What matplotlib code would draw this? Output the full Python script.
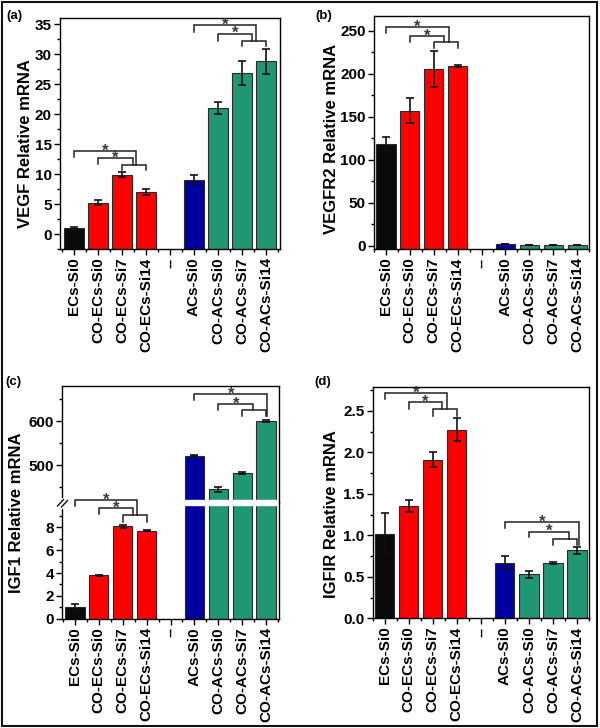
import matplotlib
matplotlib.use('Agg')
import matplotlib.pyplot as plt
import numpy as np
from matplotlib.ticker import MultipleLocator, FixedLocator
from matplotlib.patches import Rectangle
from matplotlib.lines import Line2D

plt.rcParams['font.family'] = ['Liberation Sans', 'DejaVu Sans']
plt.rcParams['font.weight'] = 'bold'

groups = ['ECs-Si0', 'CO-ECs-Si0', 'CO-ECs-Si7', 'CO-ECs-Si14', '--',
          'ACs-Si0', 'CO-ACs-Si0', 'CO-ACs-Si7', 'CO-ACs-Si14']
bar_colors = ['#0a0a0a', '#ff0000', '#ff0000', '#ff0000', 'none',
              '#0000a0', '#219672', '#219672', '#219672']

vegf = [1.0, 5.2, 9.9, 7.0, None, 9.0, 21.0, 26.9, 28.8]
vegf_err = [0.1, 0.4, 0.4, 0.5, None, 0.8, 1.0, 2.0, 2.1]
vegfr2 = [118, 157, 205, 209, None, 2.0, 1.0, 1.0, 1.0]
vegfr2_err = [8, 15, 21, 1, None, 0.3, 0.2, 0.2, 0.2]
igf1 = [1.05, 3.82, 8.1, 7.7, None, 522, 445, 482, 600]
igf1_err = [0.25, 0.05, 0.15, 0.05, None, 2, 5, 2, 2]
igf1r = [1.02, 1.35, 1.91, 2.27, None, 0.67, 0.53, 0.67, 0.82]
igf1r_err = [0.25, 0.07, 0.09, 0.14, None, 0.08, 0.04, 0.01, 0.04]

# significance brackets: (x1, x2, y, left leg end, right leg end, star)
sig_a = [(2, 3, 11.5, 10.7, 10.7, False), (1, 2.45, 12.7, 11.7, 11.5, True),
         (0, 2.6, 13.8, 12.9, 11.5, True),
         (7, 8, 32.2, 31.3, 31.3, False), (6, 7.4, 33.4, 32.2, 32.2, True),
         (5, 7.6, 34.8, 33.6, 32.2, True)]
sig_b = [(2, 3, 236.5, 229.5, 229.5, False), (1, 2.42, 243.8, 236.5, 236.5, True),
         (0, 2.62, 254, 247, 236.5, True)]
sig_c_low = [(2, 3, 9.08, 8.5, 8.5, False), (1, 2.42, 9.66, 9.14, 9.08, True),
             (0, 2.6, 10.39, 9.9, 9.08, True)]
sig_c_high = [(7, 8, 625.8, 612, 612, False), (6, 7.46, 639.4, 625.8, 625.8, True),
              (5, 8.05, 661, 648.5, 612, True)]
sig_d = [(2, 3, 2.52, 2.44, 2.44, False), (1, 2.4, 2.61, 2.52, 2.52, True),
         (0, 2.6, 2.71, 2.64, 2.52, True),
         (7, 8, 0.96, 0.88, 0.88, False), (6, 7.65, 1.045, 0.98, 0.96, True),
         (5, 8.1, 1.16, 1.09, 0.88, True)]

W, H = 600, 728
fig = plt.figure(figsize=(6, 7.28), dpi=100)


def box(l, t, r, b):
    return [l / W, 1 - b / H, (r - l) / W, (b - t) / H]


def fpt(px, py):
    return px / W, 1 - py / H


def arr(v):
    return np.array([np.nan if a is None else a for a in v], float)


def draw_bars(ax, vals, errs, base):
    x = np.arange(len(groups))
    v = arr(vals)
    ax.bar(x, v - base, bottom=base, width=0.8, color=bar_colors,
           edgecolor='#2a2a2a', linewidth=0.8, zorder=1)
    ax.errorbar(x, v, yerr=arr(errs), fmt='none', ecolor='#111111',
                elinewidth=1.2, capsize=3, capthick=1.2, zorder=2)


def style(ax, xlabels=True):
    ax.set_xticks(np.arange(len(groups)))
    if xlabels:
        ax.set_xticklabels(groups, rotation=90, fontsize=11, fontweight='bold')
    else:
        ax.set_xticklabels([])
    ax.xaxis.set_minor_locator(FixedLocator(np.arange(-0.5, 9, 1)))
    ax.tick_params(which='both', direction='out', top=False, right=False,
                   width=1, labelsize=11, pad=2)
    ax.tick_params(which='major', length=4)
    ax.tick_params(which='minor', length=2.5)
    for s in ax.spines.values():
        s.set_linewidth(1.0)
    for lab in ax.get_yticklabels():
        lab.set_fontweight('bold')


def brackets(ax, sig):
    for x1, x2, y, yl, yr, star in sig:
        ax.plot([x1, x1, x2, x2], [yl, y, y, yr], color='#222222', lw=1.1,
                zorder=4, clip_on=False, solid_joinstyle='miter')
        if star:
            ax.annotate('*', ((x1 + x2) / 2, y), xytext=(0, -5.5),
                        textcoords='offset points', ha='center', va='bottom',
                        fontsize=12, color='#3a3a3a', annotation_clip=False)


# (a)
ax = fig.add_axes(box(60, 18, 280, 249))
ax.set_ylim(-2.5, 36)
draw_bars(ax, vegf, vegf_err, -2.5)
ax.yaxis.set_major_locator(MultipleLocator(5))
ax.yaxis.set_minor_locator(MultipleLocator(2.5))
style(ax)
ax.set_xlim(-0.58, 8.58)
brackets(ax, sig_a)

# (b)
ax = fig.add_axes(box(374, 16, 589, 249))
ax.set_ylim(-4, 267)
draw_bars(ax, vegfr2, vegfr2_err, -4)
ax.yaxis.set_major_locator(MultipleLocator(50))
ax.yaxis.set_minor_locator(MultipleLocator(25))
style(ax)
ax.set_xlim(-0.5, 8.5)
brackets(ax, sig_b)

# (c) broken axis
ax_hi = fig.add_axes(box(62.3, 386, 278.7, 502.7))
ax_lo = fig.add_axes(box(62.3, 502.7, 278.7, 618.7))
ax_hi.set_ylim(415, 680)
ax_lo.set_ylim(0, 10.16)
draw_bars(ax_hi, igf1, igf1_err, 0)
draw_bars(ax_lo, igf1, igf1_err, 0)
ax_hi.yaxis.set_major_locator(FixedLocator([500, 600]))
ax_hi.yaxis.set_minor_locator(FixedLocator([450, 550, 650]))
ax_lo.yaxis.set_major_locator(FixedLocator([0, 2, 4, 6, 8]))
ax_lo.yaxis.set_minor_locator(FixedLocator([1, 3, 5, 7, 9]))
style(ax_hi, xlabels=False)
style(ax_lo)
for a in (ax_hi, ax_lo):
    a.set_xlim(-0.53, 8.53)
ax_hi.tick_params(axis='x', which='both', bottom=False)
ax_hi.spines['bottom'].set_visible(False)
ax_lo.spines['top'].set_visible(False)
ax_hi.axhspan(415, 420, color='white', zorder=2.2)
ax_lo.axhspan(9.97, 10.16, color='white', zorder=2.2)
brackets(ax_hi, sig_c_high)
brackets(ax_lo, sig_c_low)

# break mark on left spine
fig.add_artist(Line2D(*zip(fpt(62.3, 499.5), fpt(62.3, 506.5)), color='white', lw=3))
for (xa, ya, xb, yb) in [(57.5, 506, 63.5, 499.5), (61.5, 507, 67.5, 500.5)]:
    fig.add_artist(Line2D(*zip(fpt(xa, ya), fpt(xb, yb)), color='#111111', lw=1.0))

# (d)
ax = fig.add_axes(box(372.7, 386.7, 589, 618.3))
ax.set_ylim(0, 2.79)
draw_bars(ax, igf1r, igf1r_err, 0)
ax.yaxis.set_major_locator(MultipleLocator(0.5))
ax.yaxis.set_minor_locator(MultipleLocator(0.25))
ax.yaxis.set_major_formatter(matplotlib.ticker.FormatStrFormatter('%.1f'))
style(ax)
ax.set_xlim(-0.5, 8.5)
brackets(ax, sig_d)

# y labels and panel letters
ylabels = [('VEGF Relative mRNA', 26, 144), ('VEGFR2 Relative mRNA', 331, 139),
           ('IGF1 Relative mRNA', 17, 513), ('IGFIR Relative mRNA', 331, 514)]
for txt, px, py in ylabels:
    fig.text(*fpt(px, py), txt, rotation=90, ha='center', va='center',
             fontsize=12, fontweight='bold')
for txt, px, py in [('(a)', 14, 16), ('(b)', 324, 16), ('(c)', 13, 382), ('(d)', 323, 382)]:
    fig.text(*fpt(px, py), txt, ha='center', va='center', fontsize=9.5, fontweight='bold')

fig.add_artist(Rectangle(fpt(1.5, 726), 595.5 / W, 724.5 / H, transform=fig.transFigure,
                         fill=False, lw=1.5, ec='#111111'))

fig.savefig('out.png', dpi=100)
